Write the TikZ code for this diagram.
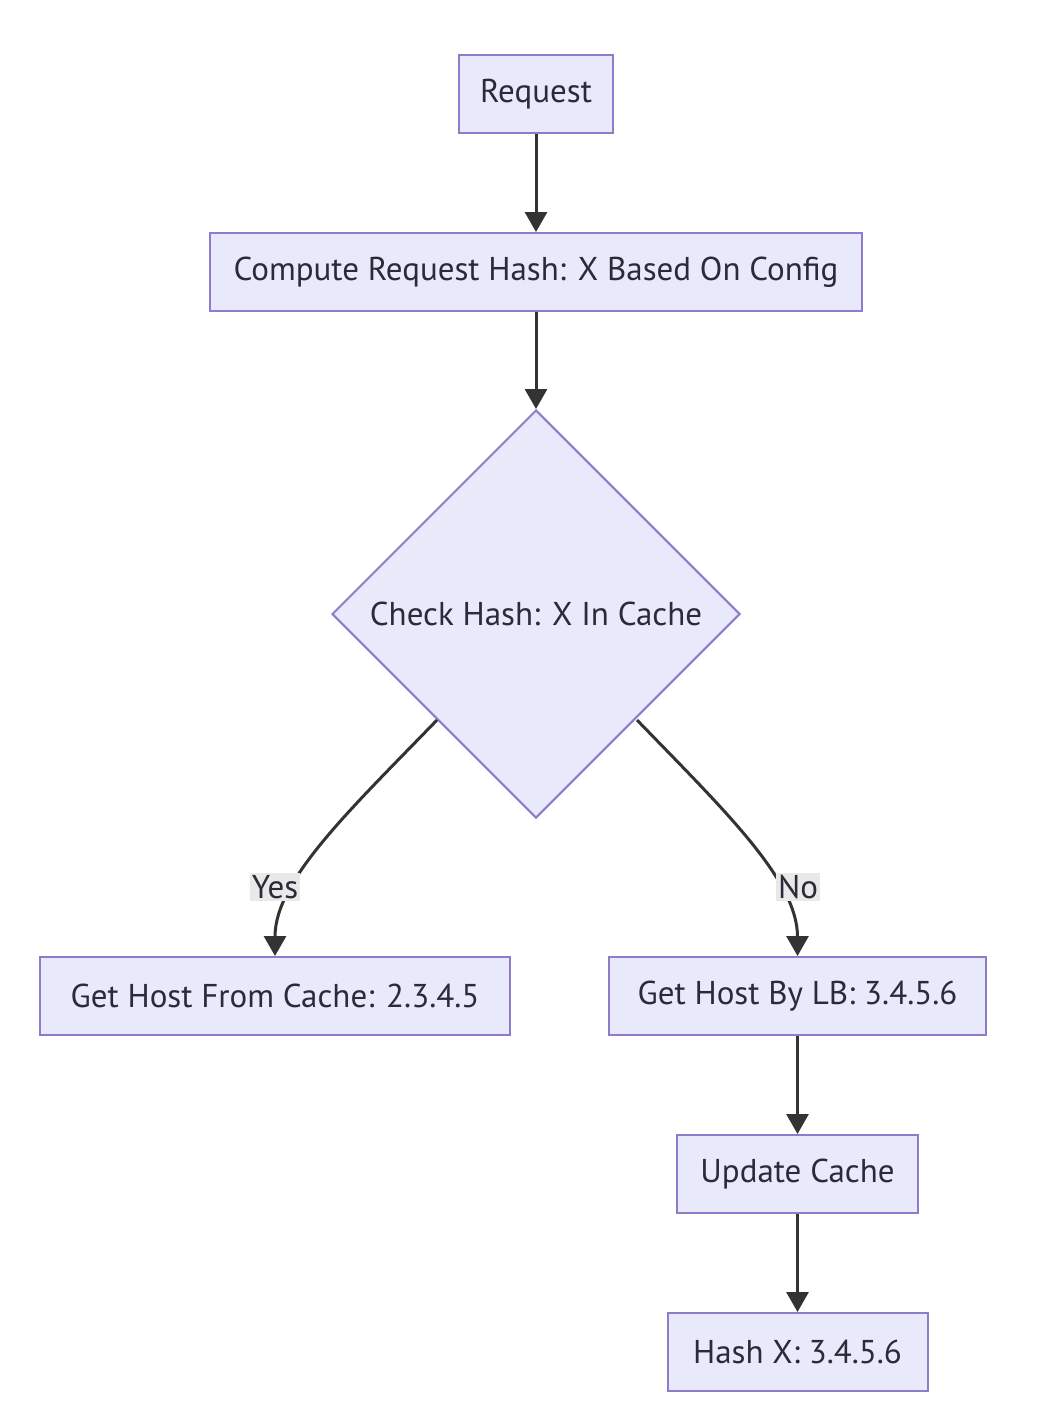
\documentclass[tikz,border=0pt]{standalone}
\usepackage{fontspec}
\setmainfont{PT Sans}
\usetikzlibrary{arrows.meta,shapes.geometric}
\definecolor{nodefill}{HTML}{E9E9FC}
\definecolor{nodedraw}{HTML}{8E7CC8}
\definecolor{txt}{HTML}{2A2A38}
\definecolor{edgecol}{HTML}{333333}
\definecolor{lblbg}{HTML}{E9E9E9}
\begin{document}
\begin{tikzpicture}[x=1pt,y=-1pt,
  every node/.style={font=\fontsize{33}{38}\selectfont, text=txt},
  box/.style={draw=nodedraw, fill=nodefill, line width=2pt, inner sep=0pt, minimum height=78pt},
  decision/.style={draw=nodedraw, fill=nodefill, line width=2pt, diamond, inner sep=0pt, minimum width=408pt, minimum height=408pt},
  edge/.style={draw=edgecol, line width=3pt, -{Triangle[length=20pt,width=22pt]}},
  lbl/.style={fill=lblbg, inner sep=2pt}
]
\useasboundingbox (0,0) rectangle (1044,1426);
\fill[white] (0,0) rectangle (1044,1426);

\node[box, minimum width=154pt] (req) at (536,94) {Request};
\node[box, minimum width=652pt] (hash) at (536,272) {Compute Request Hash: X Based On Config};
\node[decision] (check) at (536,614) {Check Hash: X In Cache};
\node[box, minimum width=470pt] (cache) at (275,996) {Get Host From Cache: 2.3.4.5};
\node[box, minimum width=377pt] (lb) at (797.5,996) {Get Host By LB: 3.4.5.6};
\node[box, minimum width=241pt] (upd) at (797.5,1174) {Update Cache};
\node[box, minimum width=260pt] (hx) at (797.5,1352) {Hash X: 3.4.5.6};

\draw[edge] (req.south) -- (hash.north);
\draw[edge] (hash.south) -- (check.north);

\coordinate (ys) at (437,720);
\coordinate (ns) at (637,720);
\draw[edge] (ys) .. controls (350,810) and (275,880) .. (cache.north);
\draw[edge] (ns) .. controls (724,810) and (797.5,880) .. (lb.north);

\node[lbl] (yes) at (275,887) {Yes};
\node[lbl] (no) at (798,887) {No};

\draw[edge] (lb.south) -- (upd.north);
\draw[edge] (upd.south) -- (hx.north);
\end{tikzpicture}
\end{document}
